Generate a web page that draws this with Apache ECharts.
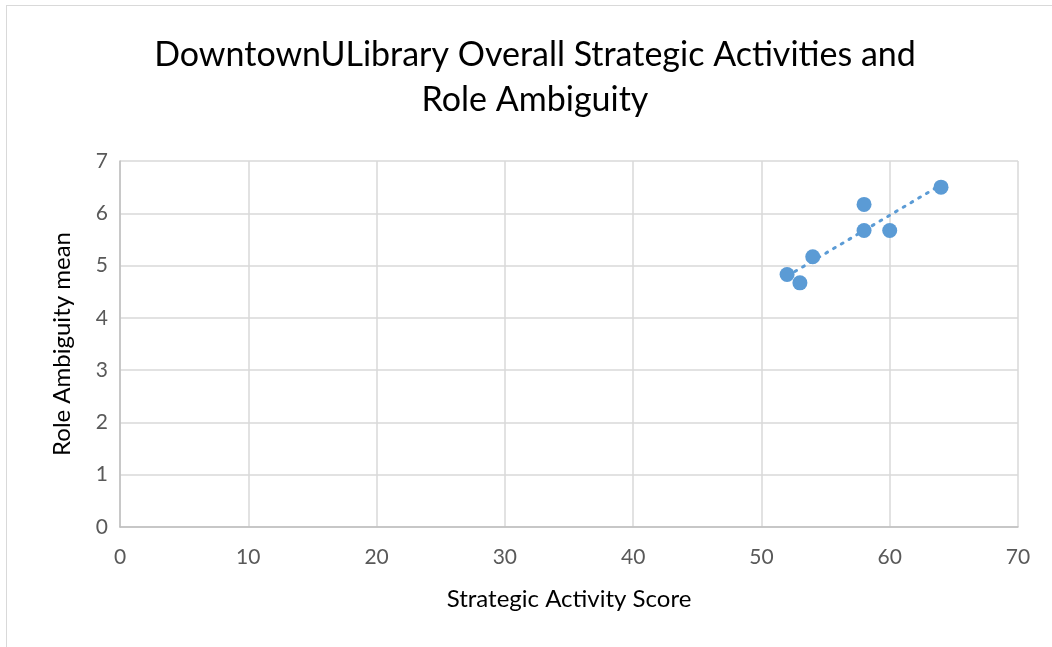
<!DOCTYPE html>
<html>
<head>
<meta charset="utf-8">
<script src="https://cdn.jsdelivr.net/npm/echarts@6/dist/echarts.min.js"></script>
<style>
html,body{margin:0;padding:0;background:#fff;}
#frame{position:absolute;left:6px;top:5px;width:1060px;height:660px;border:1px solid #d9d9d9;box-sizing:border-box;}
#chart{position:absolute;left:0;top:0;width:1052px;height:647px;}
</style>
</head>
<body>
<div id="frame"></div>
<div id="chart"></div>
<script>
const titleText = 'DowntownULibrary Overall Strategic Activities and\nRole Ambiguity';
const xAxisName = 'Strategic Activity Score';
const yAxisName = 'Role Ambiguity mean';
const strategicScore = [52, 53, 54, 58, 58, 60, 64];
const roleAmbiguity = [4.83, 4.67, 5.17, 6.17, 5.67, 5.67, 6.5];

// linear trendline (least squares) from the data
const n = strategicScore.length;
const mx = strategicScore.reduce((a, b) => a + b, 0) / n;
const my = roleAmbiguity.reduce((a, b) => a + b, 0) / n;
let sxy = 0, sxx = 0;
for (let i = 0; i < n; i++) {
  sxy += (strategicScore[i] - mx) * (roleAmbiguity[i] - my);
  sxx += (strategicScore[i] - mx) * (strategicScore[i] - mx);
}
const slope = sxy / sxx, icpt = my - slope * mx;
const xMin = Math.min(...strategicScore), xMax = Math.max(...strategicScore);
const trend = [[xMin, icpt + slope * xMin], [xMax, icpt + slope * xMax]];

const chart = echarts.init(document.getElementById('chart'));
chart.setOption({
  animation: false,
  title: {
    text: titleText,
    left: 535,
    top: 33,
    padding: 0,
    textAlign: 'center',
    textStyle: { fontFamily: 'Lato', fontSize: 34, fontWeight: 'normal', color: '#000', lineHeight: 45, align: 'center' }
  },
  grid: { left: 120, right: 34, top: 161, bottom: 120 },
  xAxis: {
    type: 'value', min: 0, max: 70, interval: 10,
    name: xAxisName, nameLocation: 'middle', nameGap: 60,
    nameTextStyle: { fontFamily: 'Lato', fontSize: 24, color: '#000' },
    axisLine: { show: true, lineStyle: { color: '#bfbfbf', width: 1.5 } },
    axisTick: { show: false },
    axisLabel: { fontFamily: 'Lato', fontSize: 21, color: '#595959', margin: 20 },
    splitLine: { show: true, lineStyle: { color: '#d9d9d9', width: 1.5 } }
  },
  yAxis: {
    type: 'value', min: 0, max: 7, interval: 1,
    name: yAxisName, nameLocation: 'middle', nameGap: 46,
    nameTextStyle: { fontFamily: 'Lato', fontSize: 24, color: '#000' },
    axisLine: { show: true, lineStyle: { color: '#bfbfbf', width: 1.5 } },
    axisTick: { show: false },
    axisLabel: { fontFamily: 'Lato', fontSize: 21, color: '#595959', margin: 12 },
    splitLine: { show: true, lineStyle: { color: '#d9d9d9', width: 1.5 } }
  },
  series: [
    {
      type: 'line',
      data: trend,
      symbol: 'none',
      lineStyle: { color: '#5b9bd5', width: 3, type: [2, 7], cap: 'round' },
      z: 1
    },
    {
      type: 'scatter',
      data: strategicScore.map((x, i) => [x, roleAmbiguity[i]]),
      symbolSize: 15,
      itemStyle: { color: '#5b9bd5', opacity: 1 },
      z: 2
    }
  ]
});
</script>
</body>
</html>
